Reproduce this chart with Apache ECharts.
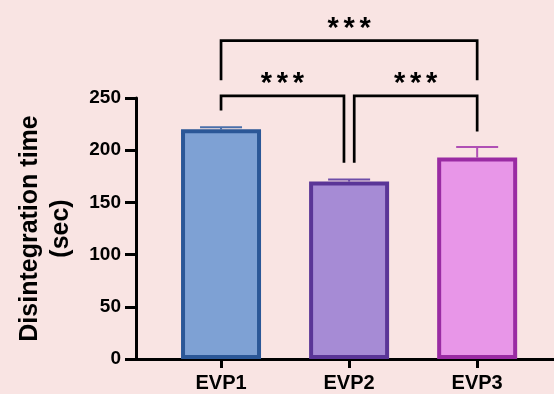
<!DOCTYPE html>
<html><head><meta charset="utf-8">
<script src="https://cdn.jsdelivr.net/npm/echarts@6/dist/echarts.min.js"></script>
<style>html,body{margin:0;padding:0;background:#F9E4E3}#c{width:554px;height:394px}</style>
</head><body><div id="c"></div><script>
const categories = ['EVP1', 'EVP2', 'EVP3'];
const categoryPositions = [1, 2, 3];
const means = [220, 170, 193];
const errors = [2, 2, 10];
const fillColors = ['#7EA1D4', '#A68BD5', '#E896E8'];
const borderColors = ['#2B5797', '#5A3597', '#9A2BA3'];
const errorColors = ['#4A6FAA', '#6E4DA8', '#B050B5'];
const yTicks = [0, 50, 100, 150, 200, 250];
// significance brackets: [xLeft, xRight, yTop, yLeftEnd, yRightEnd]
const brackets = [
  [1, 3, 305, 267, 267],
  [1, 1.96, 252, 238, 188],
  [2.04, 3, 252, 188, 218]
];
// star labels
const starX = [2, 1.48, 2.52];
const starY = [322, 269, 269];
const starText = ['***', '***', '***'];

const FONT = '"Liberation Sans", Arial, sans-serif';
const chart = echarts.init(document.getElementById('c'));
chart.setOption({
  backgroundColor: '#F9E4E3',
  animation: false,
  grid: { left: 136, right: 0, top: 98, bottom: 35, containLabel: false },
  xAxis: {
    type: 'value', min: 0.336, max: 3.6,
    splitLine: { show: false },
    axisLine: { show: true, lineStyle: { color: '#000', width: 3 } },
    axisTick: { show: true, length: 9, lineStyle: { color: '#000', width: 3 }, customValues: categoryPositions },
    axisLabel: {
      customValues: categoryPositions, margin: 14,
      formatter: v => categories[Math.round(v) - 1] || '',
      color: '#000', fontWeight: 'bold', fontSize: 20, fontFamily: FONT
    }
  },
  yAxis: {
    type: 'value', min: yTicks[0], max: yTicks[yTicks.length - 1], interval: 50,
    splitLine: { show: false },
    axisLine: { show: true, lineStyle: { color: '#000', width: 3 } },
    axisTick: { show: true, length: 11, lineStyle: { color: '#000', width: 3 } },
    axisLabel: { margin: 15, color: '#000', fontWeight: 'bold', fontSize: 19, fontFamily: FONT },
    name: 'Disintegration time\n(sec)',
    nameLocation: 'middle', nameGap: 59, nameRotate: 90,
    nameTextStyle: { color: '#000', fontWeight: 'bold', fontSize: 25, lineHeight: 31, fontFamily: FONT }
  },
  series: [
    {
      type: 'custom', clip: false, z: 1,
      data: categoryPositions.map((x, i) => [x, means[i], errors[i]]),
      encode: { x: 0, y: 1 },
      renderItem: (params, api) => {
        const x = api.value(0), m = api.value(1), e = api.value(2);
        const base = api.coord([x, m]);
        const top = api.coord([x, m + e]);
        const c = errorColors[params.dataIndex];
        const half = 21;
        return {
          type: 'group', children: [
            { type: 'line', shape: { x1: base[0], y1: base[1], x2: top[0], y2: top[1] }, style: { stroke: c, lineWidth: 2 } },
            { type: 'line', shape: { x1: top[0] - half, y1: top[1], x2: top[0] + half, y2: top[1] }, style: { stroke: c, lineWidth: 2 } }
          ]
        };
      }
    },
    {
      type: 'bar', barWidth: 80, z: 2,
      data: categoryPositions.map((x, i) => ({
        value: [x, means[i]],
        itemStyle: { color: fillColors[i], borderColor: borderColors[i], borderWidth: 4 }
      }))
    },
    {
      type: 'custom', clip: false, z: 3,
      data: brackets,
      encode: { x: [0, 1], y: [2, 3, 4] },
      renderItem: (params, api) => {
        const x1 = api.value(0), x2 = api.value(1), yt = api.value(2), yl = api.value(3), yr = api.value(4);
        const p1 = api.coord([x1, yl]), p2 = api.coord([x1, yt]), p3 = api.coord([x2, yt]), p4 = api.coord([x2, yr]);
        return {
          type: 'polyline',
          shape: { points: [p1, p2, p3, p4] },
          style: { stroke: '#000', lineWidth: 2.7, fill: null, lineJoin: 'miter' }
        };
      }
    },
    {
      type: 'custom', clip: false, z: 3,
      data: starX.map((x, i) => [x, starY[i]]),
      encode: { x: 0, y: 1 },
      renderItem: (params, api) => {
        const p = api.coord([api.value(0), api.value(1)]);
        const chars = starText[params.dataIndex].split('');
        const step = 16;
        return {
          type: 'group',
          children: chars.map((ch, k) => ({
            type: 'text', x: p[0] + (k - (chars.length - 1) / 2) * step, y: p[1] + 6,
            style: { text: ch, align: 'center', verticalAlign: 'middle', fill: '#000', font: 'bold 29px ' + FONT }
          }))
        };
      }
    }
  ]
});
</script></body></html>
